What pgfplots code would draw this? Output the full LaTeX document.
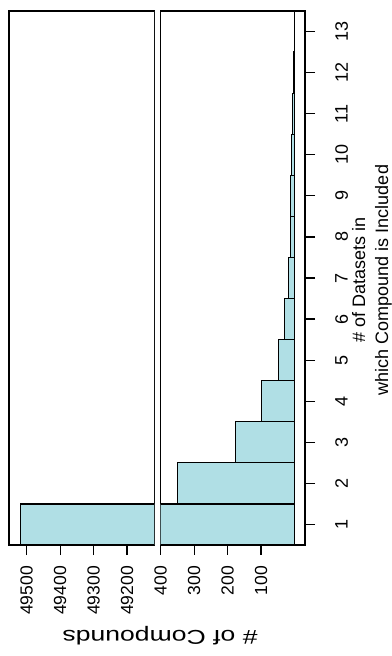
\documentclass[border=0pt]{standalone}
\usepackage{pgfplots}
\usepackage{pgfplotstable}
\usepackage{fontspec}
\setmainfont{Liberation Sans}
\pgfplotsset{compat=1.18}
\definecolor{bfill}{HTML}{B0DFE5}
\pgfplotstableread{
cat n
1 49518
2 349
3 176
4 99
5 48
6 29
7 18
8 12
9 11
10 8
11 6
12 4
13 1
}\counts
\pgfplotsset{
  panel/.style={
    anchor=south west, scale only axis, height=534pt,
    x dir=reverse, ymin=0.5, ymax=13.5,
    xbar, bar width=1,
    tick align=outside, major tick length=10pt,
    xtick pos=left, xticklabel pos=left,
    axis line style={line width=1.2pt, black},
    tick style={line width=1.2pt, black},
    xticklabel style={rotate=90, anchor=east, inner sep=0pt,
      font=\fontsize{17.5pt}{20pt}\selectfont},
    xticklabel shift=11pt,
  },
}
\begin{document}
\begin{tikzpicture}
\path[use as bounding box] (0,0) rectangle (391pt,656pt);
% left panel (upper range)
\begin{axis}[panel, at={(9pt,111pt)}, width=145.3pt,
  xmin=118.4, xmax=552.9,
  xtick={200,300,400,500}, xticklabels={49200,49300,49400,49500},
  ytick=\empty]
\addplot[fill=bfill, draw=black, line width=1.2pt,
  restrict x to domain*=0:600]
  table[x expr=\thisrow{n}-49000, y=cat] {\counts};
\end{axis}
% right panel (lower range)
\begin{axis}[panel, at={(160.7pt,111pt)}, width=144.3pt,
  xmin=-31.5, xmax=400,
  xtick={100,200,300,400}, xticklabels={100,200,300,400},
  ytick={1,2,3,4,5,6,7,8,9,10,11,12,13},
  yticklabels={1,2,3,4,5,6,7,8,9,10,11,12,13},
  ytick pos=right, yticklabel pos=right,
  yticklabel style={rotate=90, anchor=north, inner sep=0pt,
    font=\fontsize{18pt}{20pt}\selectfont},
  yticklabel shift=20pt]
\addplot[fill=bfill, draw=black, line width=1.2pt,
  restrict x to domain*=-50:450]
  table[x=n, y=cat] {\counts};
\end{axis}
\node[rotate=90, align=center, inner sep=0pt,
  font=\fontsize{18pt}{23pt}\selectfont] at (372pt,376pt)
  {\# of Datasets in\\which Compound is Included};
\node[rotate=180, inner sep=0pt,
  font=\fontsize{20pt}{24pt}\selectfont] at (160pt,20pt)
  {\scalebox{1.33}[1]{\# of Compounds}};
\end{tikzpicture}
\end{document}
